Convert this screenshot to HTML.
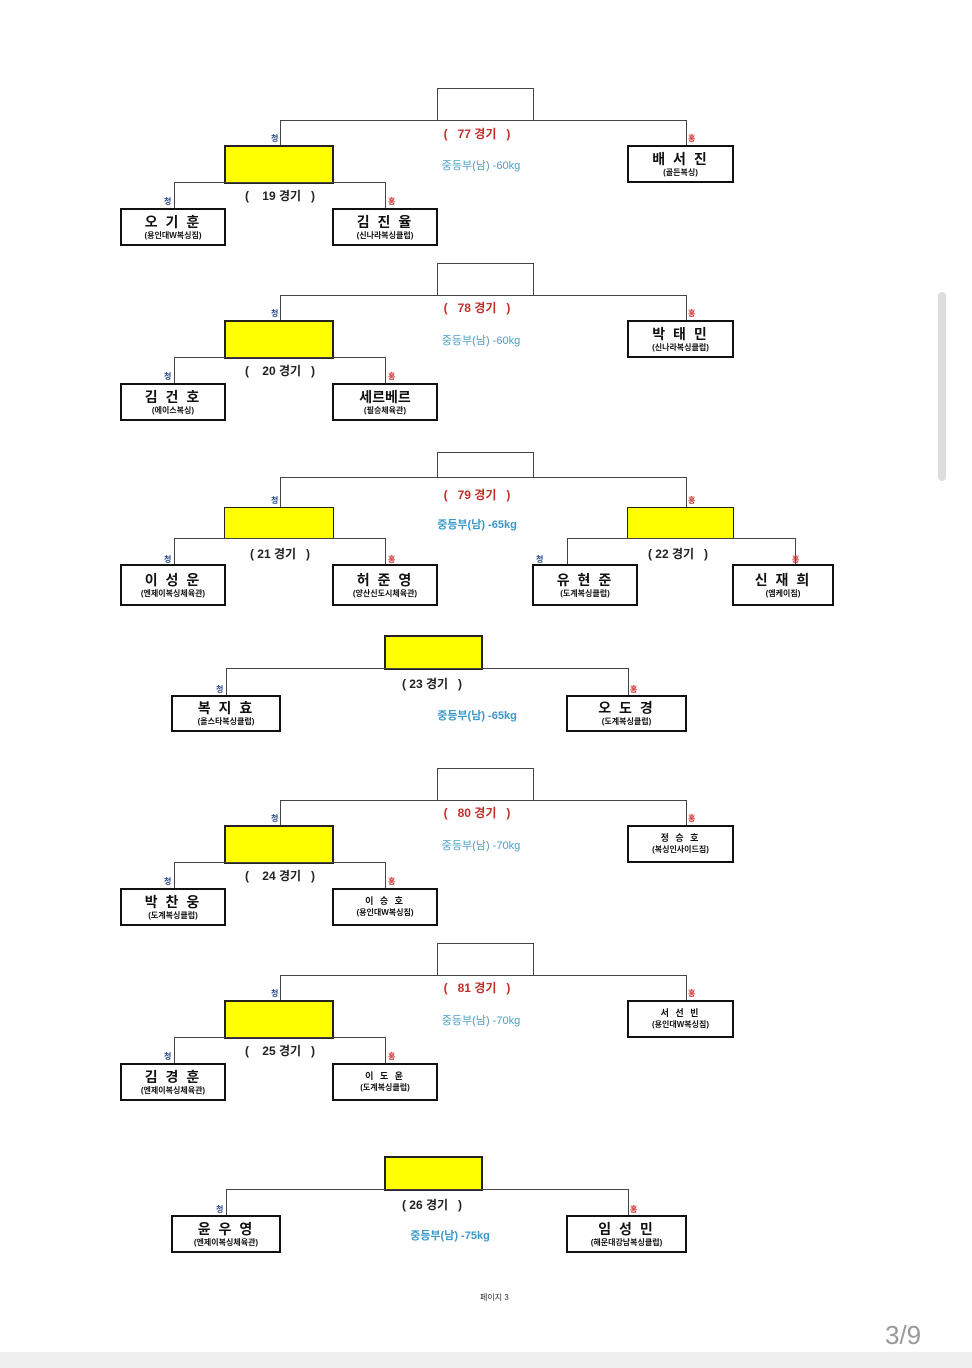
<!DOCTYPE html>
<html><head><meta charset="utf-8"><style>
body{margin:0;width:972px;height:1368px;background:#fff;position:relative;overflow:hidden;font-family:"Liberation Sans","Noto Sans CJK KR","NanumGothic",sans-serif}
div{position:absolute;box-sizing:border-box}
.h{height:1px;background:#444}
.v{width:1px;background:#444}
.tb{border:1px solid #444;background:#fff}
.y{background:#ffff00;border:2px solid #222}
.b{border:2px solid #111;background:#fff;display:flex;flex-direction:column;align-items:center;justify-content:center;line-height:1}
.n{position:static;font-size:14px;font-weight:bold;letter-spacing:2px;color:#111}
.n.s{font-size:9px;letter-spacing:2px}
.s2{position:static;font-size:8px;color:#111;margin-top:3px;font-weight:bold}
.c{font-size:8px;color:#2a4a8a;font-weight:bold}
.r{font-size:8px;color:#d03030;font-weight:bold}
.g{font-size:12px;font-weight:bold;color:#c0302a;white-space:pre;transform:translateX(-50%)}
.k{font-size:12px;font-weight:bold;color:#222;white-space:pre;transform:translateX(-50%)}
.d{font-size:11px;color:#4aa0c8;white-space:pre;transform:translateX(-50%)}
.d.bd{font-weight:bold;color:#3a98c8}
</style></head><body>

<!-- Block 77 T=88 -->
<div class="tb" style="left:437px;top:88px;width:97px;height:33px"></div>
<div class="h" style="left:280px;top:120px;width:407px"></div>
<div class="v" style="left:280px;top:120px;height:26px"></div>
<div class="v" style="left:686px;top:120px;height:26px"></div>
<div class="y" style="left:224px;top:145px;width:110px;height:39px"></div>
<div class="b" style="left:627px;top:145px;width:107px;height:38px"><span class="n">배 서 진</span><span class="s2">(골든복싱)</span></div>
<div class="h" style="left:174px;top:182px;width:212px"></div>
<div class="v" style="left:174px;top:182px;height:27px"></div>
<div class="v" style="left:385px;top:182px;height:27px"></div>
<div class="b" style="left:120px;top:208px;width:106px;height:38px"><span class="n">오 기 훈</span><span class="s2">(용인대W복싱짐)</span></div>
<div class="b" style="left:332px;top:208px;width:106px;height:38px"><span class="n">김 진 율</span><span class="s2">(신나라복싱클럽)</span></div>
<div class="c" style="left:271px;top:133px">청</div><div class="r" style="left:688px;top:133px">홍</div>
<div class="c" style="left:164px;top:196px">청</div><div class="r" style="left:388px;top:196px">홍</div>
<div class="g" style="left:477px;top:125px">(   77 경기   )</div>
<div class="d" style="left:481px;top:157px">중등부(남) -60kg</div>
<div class="k" style="left:280px;top:187px">(    19 경기   )</div>

<!-- Block 78 T=263 -->
<div class="tb" style="left:437px;top:263px;width:97px;height:33px"></div>
<div class="h" style="left:280px;top:295px;width:407px"></div>
<div class="v" style="left:280px;top:295px;height:26px"></div>
<div class="v" style="left:686px;top:295px;height:26px"></div>
<div class="y" style="left:224px;top:320px;width:110px;height:39px"></div>
<div class="b" style="left:627px;top:320px;width:107px;height:38px"><span class="n">박 태 민</span><span class="s2">(신나라복싱클럽)</span></div>
<div class="h" style="left:174px;top:357px;width:212px"></div>
<div class="v" style="left:174px;top:357px;height:27px"></div>
<div class="v" style="left:385px;top:357px;height:27px"></div>
<div class="b" style="left:120px;top:383px;width:106px;height:38px"><span class="n">김 건 호</span><span class="s2">(에이스복싱)</span></div>
<div class="b" style="left:332px;top:383px;width:106px;height:38px"><span class="n" style="letter-spacing:0">세르베르</span><span class="s2">(필승체육관)</span></div>
<div class="c" style="left:271px;top:308px">청</div><div class="r" style="left:688px;top:308px">홍</div>
<div class="c" style="left:164px;top:371px">청</div><div class="r" style="left:388px;top:371px">홍</div>
<div class="g" style="left:477px;top:299px">(   78 경기   )</div>
<div class="d" style="left:481px;top:332px">중등부(남) -60kg</div>
<div class="k" style="left:280px;top:362px">(    20 경기   )</div>

<!-- Block 79 -->
<div class="tb" style="left:437px;top:452px;width:97px;height:26px"></div>
<div class="h" style="left:280px;top:477px;width:407px"></div>
<div class="v" style="left:280px;top:477px;height:31px"></div>
<div class="v" style="left:686px;top:477px;height:31px"></div>
<div class="y" style="left:224px;top:507px;width:110px;height:32px;border-width:1px"></div>
<div class="y" style="left:627px;top:507px;width:107px;height:32px;border-width:1px"></div>
<div class="h" style="left:174px;top:538px;width:212px"></div>
<div class="v" style="left:174px;top:538px;height:27px"></div>
<div class="v" style="left:385px;top:538px;height:27px"></div>
<div class="h" style="left:567px;top:538px;width:229px"></div>
<div class="v" style="left:567px;top:538px;height:27px"></div>
<div class="v" style="left:795px;top:538px;height:27px"></div>
<div class="b" style="left:120px;top:564px;width:106px;height:42px"><span class="n">이 성 운</span><span class="s2">(엔제이복싱체육관)</span></div>
<div class="b" style="left:332px;top:564px;width:106px;height:42px"><span class="n">허 준 영</span><span class="s2">(양산신도시체육관)</span></div>
<div class="b" style="left:532px;top:564px;width:106px;height:42px"><span class="n">유 현 준</span><span class="s2">(도계복싱클럽)</span></div>
<div class="b" style="left:732px;top:564px;width:102px;height:42px"><span class="n">신 재 희</span><span class="s2">(엠케이짐)</span></div>
<div class="c" style="left:271px;top:495px">청</div><div class="r" style="left:688px;top:495px">홍</div>
<div class="c" style="left:164px;top:554px">청</div><div class="r" style="left:388px;top:554px">홍</div>
<div class="c" style="left:536px;top:554px">청</div><div class="r" style="left:792px;top:554px">홍</div>
<div class="g" style="left:477px;top:486px">(   79 경기   )</div>
<div class="d bd" style="left:477px;top:516px">중등부(남) -65kg</div>
<div class="k" style="left:280px;top:545px">( 21 경기   )</div>
<div class="k" style="left:678px;top:545px">( 22 경기   )</div>

<!-- Block 23 -->
<div class="y" style="left:384px;top:635px;width:99px;height:35px"></div>
<div class="h" style="left:226px;top:668px;width:403px"></div>
<div class="v" style="left:226px;top:668px;height:28px"></div>
<div class="v" style="left:628px;top:668px;height:28px"></div>
<div class="b" style="left:171px;top:695px;width:110px;height:37px"><span class="n">복 지 효</span><span class="s2">(올스타복싱클럽)</span></div>
<div class="b" style="left:566px;top:695px;width:121px;height:37px"><span class="n">오 도 경</span><span class="s2">(도계복싱클럽)</span></div>
<div class="c" style="left:216px;top:684px">청</div><div class="r" style="left:630px;top:684px">홍</div>
<div class="k" style="left:432px;top:675px">( 23 경기   )</div>
<div class="d bd" style="left:477px;top:707px">중등부(남) -65kg</div>

<!-- Block 80 T=768 -->
<div class="tb" style="left:437px;top:768px;width:97px;height:33px"></div>
<div class="h" style="left:280px;top:800px;width:407px"></div>
<div class="v" style="left:280px;top:800px;height:26px"></div>
<div class="v" style="left:686px;top:800px;height:26px"></div>
<div class="y" style="left:224px;top:825px;width:110px;height:39px"></div>
<div class="b" style="left:627px;top:825px;width:107px;height:38px"><span class="n s">정 승 호</span><span class="s2">(복싱인사이드짐)</span></div>
<div class="h" style="left:174px;top:862px;width:212px"></div>
<div class="v" style="left:174px;top:862px;height:27px"></div>
<div class="v" style="left:385px;top:862px;height:27px"></div>
<div class="b" style="left:120px;top:888px;width:106px;height:38px"><span class="n">박 찬 웅</span><span class="s2">(도계복싱클럽)</span></div>
<div class="b" style="left:332px;top:888px;width:106px;height:38px"><span class="n s">이 승 호</span><span class="s2">(용인대W복싱짐)</span></div>
<div class="c" style="left:271px;top:813px">청</div><div class="r" style="left:688px;top:813px">홍</div>
<div class="c" style="left:164px;top:876px">청</div><div class="r" style="left:388px;top:876px">홍</div>
<div class="g" style="left:477px;top:804px">(   80 경기   )</div>
<div class="d" style="left:481px;top:837px">중등부(남) -70kg</div>
<div class="k" style="left:280px;top:867px">(    24 경기   )</div>

<!-- Block 81 T=943 -->
<div class="tb" style="left:437px;top:943px;width:97px;height:33px"></div>
<div class="h" style="left:280px;top:975px;width:407px"></div>
<div class="v" style="left:280px;top:975px;height:26px"></div>
<div class="v" style="left:686px;top:975px;height:26px"></div>
<div class="y" style="left:224px;top:1000px;width:110px;height:39px"></div>
<div class="b" style="left:627px;top:1000px;width:107px;height:38px"><span class="n s">서 선 빈</span><span class="s2">(용인대W복싱짐)</span></div>
<div class="h" style="left:174px;top:1037px;width:212px"></div>
<div class="v" style="left:174px;top:1037px;height:27px"></div>
<div class="v" style="left:385px;top:1037px;height:27px"></div>
<div class="b" style="left:120px;top:1063px;width:106px;height:38px"><span class="n">김 경 훈</span><span class="s2">(엔제이복싱체육관)</span></div>
<div class="b" style="left:332px;top:1063px;width:106px;height:38px"><span class="n s">이 도 윤</span><span class="s2">(도계복싱클럽)</span></div>
<div class="c" style="left:271px;top:988px">청</div><div class="r" style="left:688px;top:988px">홍</div>
<div class="c" style="left:164px;top:1051px">청</div><div class="r" style="left:388px;top:1051px">홍</div>
<div class="g" style="left:477px;top:979px">(   81 경기   )</div>
<div class="d" style="left:481px;top:1012px">중등부(남) -70kg</div>
<div class="k" style="left:280px;top:1042px">(    25 경기   )</div>

<!-- Block 26 -->
<div class="y" style="left:384px;top:1156px;width:99px;height:35px"></div>
<div class="h" style="left:226px;top:1189px;width:403px"></div>
<div class="v" style="left:226px;top:1189px;height:28px"></div>
<div class="v" style="left:628px;top:1189px;height:28px"></div>
<div class="b" style="left:171px;top:1215px;width:110px;height:38px"><span class="n">윤 우 영</span><span class="s2">(엔제이복싱체육관)</span></div>
<div class="b" style="left:566px;top:1215px;width:121px;height:38px"><span class="n">임 성 민</span><span class="s2">(해운대강남복싱클럽)</span></div>
<div class="c" style="left:216px;top:1204px">청</div><div class="r" style="left:630px;top:1204px">홍</div>
<div class="k" style="left:432px;top:1196px">( 26 경기   )</div>
<div class="d bd" style="left:450px;top:1227px">중등부(남) -75kg</div>

<div style="left:480px;top:1292px;font-size:8px;color:#333">페이지 3</div>
<div style="left:885px;top:1320px;font-size:26px;color:#999">3/9</div>
<div style="left:938px;top:292px;width:8px;height:189px;background:#ddd;border-radius:4px"></div>
<div style="left:0;top:1352px;width:972px;height:16px;background:#f0f0f0"></div>
</body></html>
